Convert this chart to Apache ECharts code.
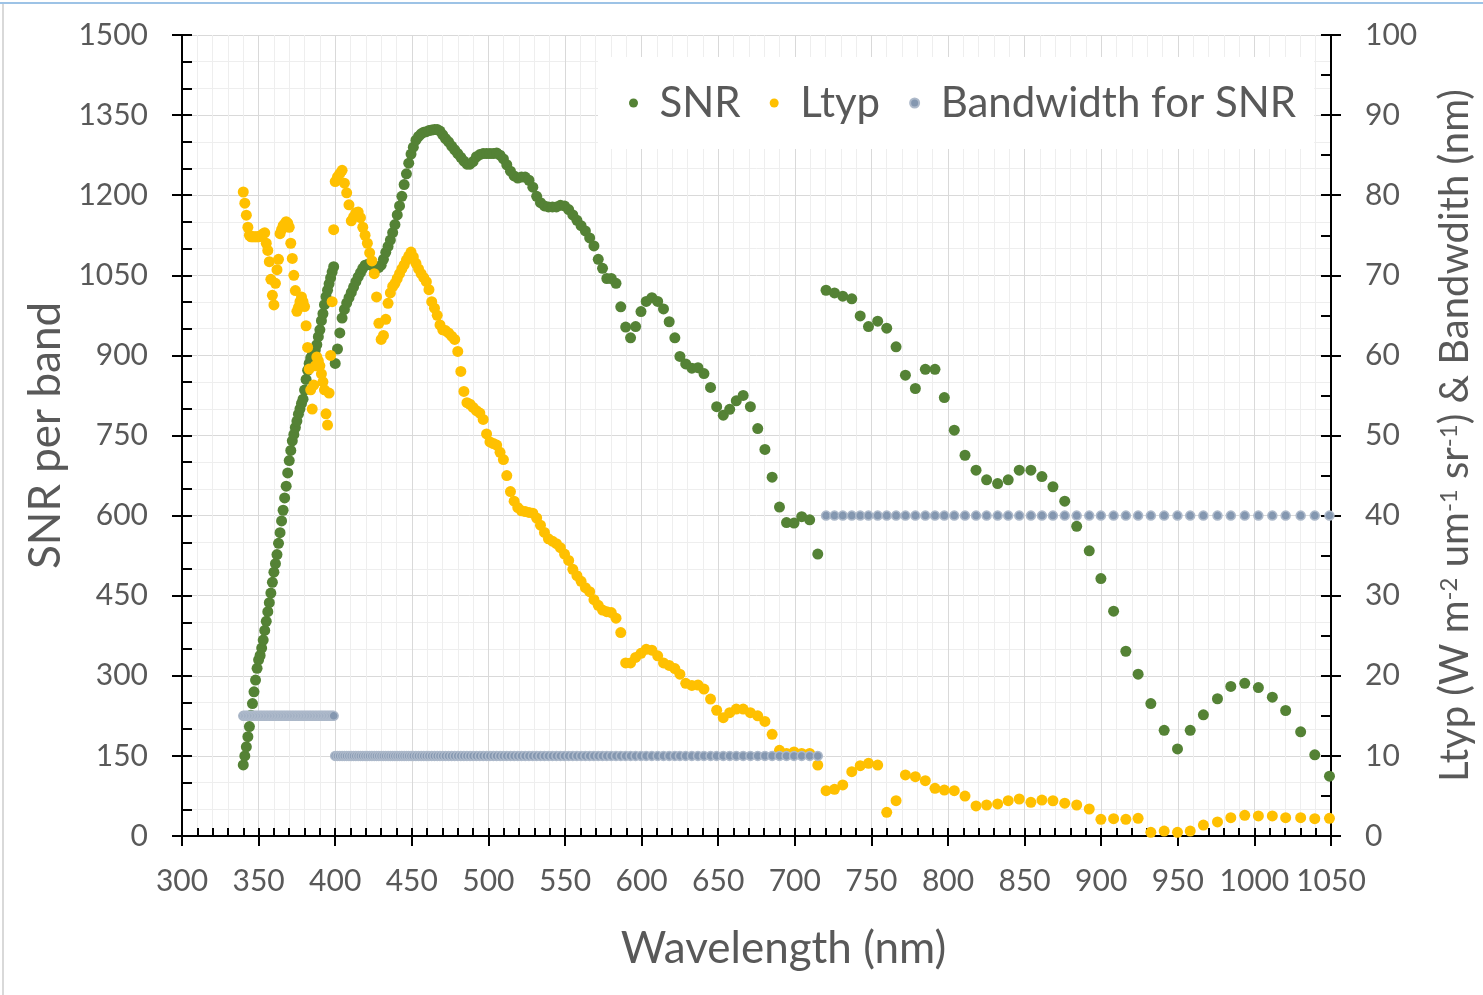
<!DOCTYPE html>
<html>
<head>
<meta charset="utf-8">
<script src="https://cdn.jsdelivr.net/npm/echarts@6/dist/echarts.min.js"></script>
<style>
html,body{margin:0;padding:0;background:#fff;}
#chart{width:1483px;height:995px;}
</style>
</head>
<body>
<div id="chart"></div>
<script>
// ---------- DATA ----------
const xTicks = [300,350,400,450,500,550,600,650,700,750,800,850,900,950,1000,1050];

// Segment 1 (340-399 nm, 15 nm bandwidth)
const wl1 = [340,341,342,343,344,345,346,347,348,349,350,351,352,353,354,355,356,357,358,359,
             360,361,362,363,364,365,366,367,368,369,370,371,372,373,374,375,376,377,378,379,
             380,381,382,383,384,385,386,387,388,389,390,391,392,393,394,395,396,397,398,399];
const snr1 = [133,150,167,186,205,226,248,270,292,314,330,338,352,367,385,402,420,437,455,475,
              494,510,527,548,568,590,610,633,655,680,703,722,740,752,765,777,790,800,810,818,
              835,855,872,885,895,900,905,910,920,935,948,965,978,995,1010,1022,1034,1045,1056,1066];
const ltyp1 = [80.4,79,77.5,76,75,74.8,74.8,74.8,74.8,74.8,74.8,74.9,75,75.2,75.3,74,73.1,71.7,69.5,67.5,
               66.3,69,70.7,72,75.2,75.7,76.2,76.4,76.7,76.5,76,74,72.1,70,68.1,65.5,66,66.7,67.3,66.7,
               66.1,63.7,61,58.3,55.7,53.3,56.3,58.7,59.8,59.3,58.7,57.7,56.7,55.7,52.7,51.3,55.3,60,66.7,75.7];
const bw1 = [15,15,15,15,15,15,15,15,15,15,15,15,15,15,15,15,15,15,15,15,
             15,15,15,15,15,15,15,15,15,15,15,15,15,15,15,15,15,15,15,15,
             15,15,15,15,15,15,15,15,15,15,15,15,15,15,15,15,15,15,15,15];

// Segment 2 (400-715 nm, 10 nm bandwidth)
const wl2 = [400,401.5,403,404.5,406,407.5,409,410.5,412,413.5,
             415,416.5,418,419.5,421,422.5,424,425.5,427,428.5,
             430,431.5,433,434.5,436,437.5,439,440.5,442,443.5,
             445,446.5,448,449.5,451,452.7,454.4,456.1,457.8,459.5,
             461.2,463,464.8,466.6,468.4,470.2,472,474,476,478,
             480,482,484,486,488,490,492.2,494.4,496.6,498.8,
             501,503.2,505.4,507.6,509.8,512,514.4,516.8,519.2,521.6,
             524,526.5,529,531.5,534,536.6,539.2,541.8,544.4,547,
             549.7,552.4,555.1,557.8,560.5,563.3,566.1,568.9,571.7,574.5,
             577.3,580.2,583.3,586.4,589.6,592.8,596.1,599.6,603,606.7,
             610.5,614.3,618,621.7,625,628.8,632.8,636.8,640.7,645,
             649,653.3,657.5,661.8,666.3,671,675.8,680.5,685.2,690,
             694.6,699.5,704.5,709.7,715];
const snr2 = [885,912,942,970,986,998,1008,1018,1028,1038,
              1047,1055,1063,1069,1070,1070,1068,1065,1063,1065,
              1069,1080,1093,1104,1116,1130,1145,1163,1180,1198,
              1220,1240,1260,1277,1290,1303,1310,1315,1318,1319,
              1321,1322,1323,1323,1320,1313,1306,1300,1292,1285,
              1278,1271,1264,1258,1258,1263,1272,1276,1278,1278,
              1278,1278,1279,1275,1268,1257,1245,1236,1232,1234,
              1234,1228,1215,1198,1186,1180,1178,1178,1178,1181,
              1180,1173,1163,1153,1143,1133,1120,1105,1080,1063,
              1044,1044,1035,991,953,933,954,982,1001,1008,
              1001,987,963,933,898,884,876,877,866,840,
              804,788,799,815,825,804,763,724,672,616,
              587,586,598,592,528];
const ltyp2 = [81.7,82.3,82.7,83.1,81.5,80.3,78.8,76.8,77.3,77.8,
               77.9,77.2,76,75,74,72.8,71.8,70.2,67.3,64,
               62,62.5,64.5,66.5,67.8,68.6,69,69.6,70.2,70.8,
               71.3,71.9,72.4,72.9,72.3,71.5,70.8,70.2,69.7,69.2,
               68.2,66.7,65.9,65,63.8,63.2,63.1,62.8,62.4,62,
               60.5,58,55.5,54.1,53.9,53.5,53.1,52.8,52,50.2,
               49.2,49,48.8,47.9,47,45,43,41.8,41,40.6,
               40.5,40.4,40.3,39.7,38.8,37.9,37.1,36.8,36.5,36,
               35.2,34.4,33.3,32.5,31.8,31,30.5,29.5,28.8,28.2,
               28,27.9,27.2,25.4,21.6,21.6,22.3,22.8,23.3,23.2,
               22.5,21.6,21.3,20.9,20.2,19.06,18.8,18.85,18.35,17.1,
               15.7,14.77,15.4,15.85,15.85,15.4,15,14.3,12.7,10.7,
               10.3,10.5,10.3,10.3,8.86];
const bw2 = [10,10,10,10,10,10,10,10,10,10,10,10,10,10,10,10,10,10,10,10,10,10,10,10,10,
             10,10,10,10,10,10,10,10,10,10,10,10,10,10,10,10,10,10,10,10,10,10,10,10,10,
             10,10,10,10,10,10,10,10,10,10,10,10,10,10,10,10,10,10,10,10,10,10,10,10,10,
             10,10,10,10,10,10,10,10,10,10,10,10,10,10,10,10,10,10,10,10,10,10,10,10,10,
             10,10,10,10,10,10,10,10,10,10,10,10,10,10,10,10,10,10,10,10,10,10,10,10,10];

// Segment 3 (720-1050 nm, 40 nm bandwidth)
const wl3 = [720.4,725.9,731.3,737.2,742.7,748.1,754.1,760,766.1,772.2,
             778.7,785.2,791.5,797.6,804.1,811.1,818.3,825.2,832.4,839.3,
             846.5,854.1,861.3,868.5,876.2,884,892.2,899.8,908.1,916.1,
             924.1,932.4,941.1,949.8,958.1,966.7,975.9,984.6,993.7,1002.6,
             1011.7,1020.4,1030.2,1039.4,1049];
const snr3 = [1022,1017,1011,1006,974,954,964,951,916,863,
              838,874,874,821,760,713,685,667,660,667,
              685,685,673,654,627,580,534,482,421,346,
              303,248,198,163,198,227,257,280,286,278,
              260,235,195,152,112];
const ltyp3 = [5.66,5.83,6.37,8.03,8.78,9.07,8.86,2.96,4.41,7.62,
               7.41,6.91,5.95,5.74,5.66,4.99,3.75,3.87,4.0,4.41,
               4.62,4.2,4.49,4.4,4.1,3.87,3.37,2.08,2.16,2.08,
               2.21,0.46,0.62,0.46,0.62,1.37,1.75,2.29,2.58,2.5,
               2.5,2.29,2.29,2.16,2.21];
const bw3 = [40,40,40,40,40,40,40,40,40,40,40,40,40,40,40,
             40,40,40,40,40,40,40,40,40,40,40,40,40,40,40,
             40,40,40,40,40,40,40,40,40,40,40,40,40,40,40];

// ---------- BUILD ----------
function zip(xs, ys){ return xs.map((x,i)=>[x, ys[i]]); }
const snrData = zip(wl1,snr1).concat(zip(wl2,snr2), zip(wl3,snr3));
const ltypData = zip(wl1,ltyp1).concat(zip(wl2,ltyp2), zip(wl3,ltyp3));
const bwData = zip(wl1,bw1).concat(zip(wl2,bw2), zip(wl3,bw3));

const FONT = 'Lato';
const TXT = '#595959';
const AX = {color:'#000', width:2};
const plain = v => String(v);

const chart = echarts.init(document.getElementById('chart'), null, {renderer:'canvas'});
chart.setOption({
  animation:false,
  backgroundColor:'#fff',
  textStyle:{fontFamily:FONT},
  graphic:[
    {type:'rect', shape:{x:0,y:2,width:1483,height:2}, style:{fill:'#9DC3E6'}, silent:true},
    {type:'rect', shape:{x:2,y:4,width:2,height:991}, style:{fill:'#D9D9D9'}, silent:true}
  ],
  grid:{left:182, right:151, top:35, bottom:159, containLabel:false},
  legend:{
    left:598, top:57,
    backgroundColor:'#fff',
    padding:[23,18,23,31],
    itemGap:29, itemWidth:42, itemHeight:9,
    icon:'circle',
    textStyle:{fontFamily:FONT, fontSize:42, color:TXT, lineHeight:46},
    data:['SNR','Ltyp','Bandwidth for SNR']
  },
  xAxis:[{
    type:'value', min:300, max:1050, interval:50,
    name:'Wavelength (nm)', nameLocation:'middle', nameGap:91,
    nameTextStyle:{fontFamily:FONT, fontSize:44, color:TXT, padding:[0,0,0,54]},
    axisLine:{show:true, onZero:false, lineStyle:AX},
    axisTick:{show:true, inside:true, length:8, lineStyle:AX},
    minorTick:{show:true, splitNumber:5, length:8, lineStyle:AX},
    axisLabel:{margin:30, fontFamily:FONT, fontSize:30, color:TXT, formatter:plain},
    splitLine:{show:true, lineStyle:{color:'#D9D9D9', width:1}},
    minorSplitLine:{show:true, lineStyle:{color:'#EEEEEE', width:1}}
  },{
    type:'value', min:300, max:1050, interval:50, position:'bottom',
    axisLine:{show:false},
    axisTick:{show:true, inside:false, length:10, lineStyle:AX},
    axisLabel:{show:false}, splitLine:{show:false}
  }],
  yAxis:[{
    type:'value', min:0, max:1500, interval:150, position:'left',
    name:'SNR per band', nameLocation:'middle', nameGap:112, nameRotate:90,
    nameTextStyle:{fontFamily:FONT, fontSize:44, color:TXT},
    axisLine:{show:true, onZero:false, lineStyle:AX},
    axisTick:{show:true, inside:true, length:10, lineStyle:AX},
    minorTick:{show:true, splitNumber:3, length:10, lineStyle:AX},
    axisLabel:{margin:34, fontFamily:FONT, fontSize:30, color:TXT, formatter:plain},
    splitLine:{show:true, lineStyle:{color:'#D9D9D9', width:1}},
    minorSplitLine:{show:true, lineStyle:{color:'#EEEEEE', width:1}}
  },{
    type:'value', min:0, max:100, interval:10, position:'right',
    name:'{n|Ltyp (W m}{s|-2}{n| um}{s|-1}{n| sr}{s|-1}{n|) & Bandwdith (nm)}',
    nameLocation:'middle', nameGap:98, nameRotate:90,
    nameTextStyle:{fontFamily:FONT, fontSize:40, color:TXT,
      rich:{
        n:{fontFamily:FONT, fontSize:40, color:TXT, verticalAlign:'bottom', lineHeight:46},
        s:{fontFamily:FONT, fontSize:24, color:TXT, verticalAlign:'bottom', lineHeight:46, padding:[0,0,14,0]}
      }},
    axisLine:{show:true, onZero:false, lineStyle:AX},
    axisTick:{show:true, inside:true, length:10, lineStyle:AX},
    minorTick:{show:true, splitNumber:2, length:10, lineStyle:AX},
    axisLabel:{margin:34, fontFamily:FONT, fontSize:30, color:TXT, formatter:plain},
    splitLine:{show:false}
  },{
    type:'value', min:0, max:1500, interval:150, position:'left',
    axisLine:{show:false},
    axisTick:{show:true, inside:false, length:10, lineStyle:AX},
    axisLabel:{show:false}, splitLine:{show:false}
  },{
    type:'value', min:0, max:100, interval:10, position:'right',
    axisLine:{show:false},
    axisTick:{show:true, inside:false, length:10, lineStyle:AX},
    axisLabel:{show:false}, splitLine:{show:false}
  }],
  series:[{
    name:'SNR', type:'scatter', xAxisIndex:0, yAxisIndex:0,
    symbol:'circle', symbolSize:11,
    itemStyle:{color:'#548235', opacity:1},
    data:snrData
  },{
    name:'Ltyp', type:'scatter', xAxisIndex:0, yAxisIndex:1,
    symbol:'circle', symbolSize:11,
    itemStyle:{color:'#FFC000', opacity:1},
    data:ltypData
  },{
    name:'Bandwidth for SNR', type:'scatter', xAxisIndex:0, yAxisIndex:1,
    symbol:'circle', symbolSize:9,
    itemStyle:{color:'#8497B0', borderColor:'#ADB9CA', borderWidth:1.5, opacity:1},
    data:bwData
  }]
});
</script>
</body>
</html>
